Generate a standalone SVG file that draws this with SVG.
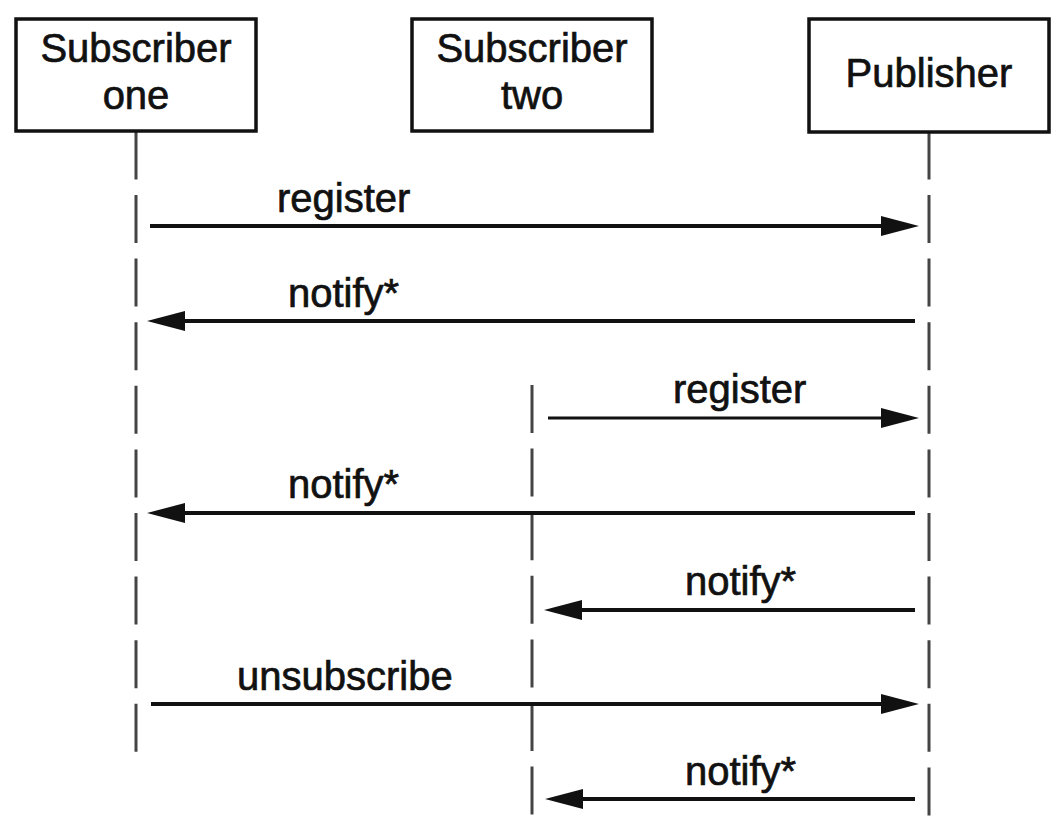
<svg xmlns="http://www.w3.org/2000/svg" width="1056" height="822" viewBox="0 0 1056 822">
  <style>
    .box { fill: #ffffff; stroke: #111111; stroke-width: 3.5; }
    .name { font-family: "Liberation Sans", Arial, sans-serif; font-size: 40px; fill: #111111; stroke: #111111; stroke-width: 0.7; text-anchor: middle; }
    .lbl { font-family: "Liberation Sans", Arial, sans-serif; font-size: 40px; fill: #111111; stroke: #111111; stroke-width: 0.7; }
    .life { stroke: #444444; stroke-width: 3; stroke-dasharray: 48 15.6; fill: none; }
    .msg { stroke: #111111; stroke-width: 4; fill: none; marker-end: url(#head); }
  </style>
  <defs>
    <marker id="head" markerUnits="userSpaceOnUse" markerWidth="40" markerHeight="22" viewBox="0 -11 40 22" refX="0" refY="0" orient="auto">
      <path d="M0,-10 L38,0 L0,10 z" fill="#111111"/>
    </marker>
  </defs>
  <rect width="1056" height="822" fill="#ffffff"/>

  <g id="lifelines">
    <line class="life" x1="136" y1="131.4" x2="136" y2="752"/>
    <line class="life" x1="532" y1="385" x2="532" y2="815"/>
    <line class="life" x1="929" y1="131.4" x2="929" y2="816"/>
  </g>

  <g id="subscriber-one">
    <rect class="box" x="16" y="19" width="240" height="112"/>
    <text class="name" x="136" y="62">Subscriber</text>
    <text class="name" x="136" y="109">one</text>
  </g>
  <g id="subscriber-two">
    <rect class="box" x="412" y="19" width="240" height="112"/>
    <text class="name" x="532" y="62">Subscriber</text>
    <text class="name" x="532" y="109">two</text>
  </g>
  <g id="publisher">
    <rect class="box" x="809" y="19" width="240" height="113"/>
    <text class="name" x="929" y="87">Publisher</text>
  </g>

  <g id="connectors">
    <line class="msg" x1="150" y1="226" x2="881" y2="226"/>
    <text class="lbl" x="277" y="212">register</text>

    <line class="msg" x1="915" y1="321" x2="185" y2="321"/>
    <text class="lbl" x="288" y="307">notify*</text>

    <line class="msg" x1="548" y1="418" x2="881" y2="418" style="stroke-width:3"/>
    <text class="lbl" x="673" y="403">register</text>

    <line class="msg" x1="915" y1="513" x2="185" y2="513"/>
    <text class="lbl" x="288" y="498">notify*</text>

    <line class="msg" x1="915" y1="610" x2="582" y2="610"/>
    <text class="lbl" x="685" y="595">notify*</text>

    <line class="msg" x1="151" y1="704" x2="881" y2="704"/>
    <text class="lbl" x="237" y="690">unsubscribe</text>

    <line class="msg" x1="915" y1="799" x2="583" y2="799"/>
    <text class="lbl" x="685" y="785">notify*</text>
  </g>
</svg>
